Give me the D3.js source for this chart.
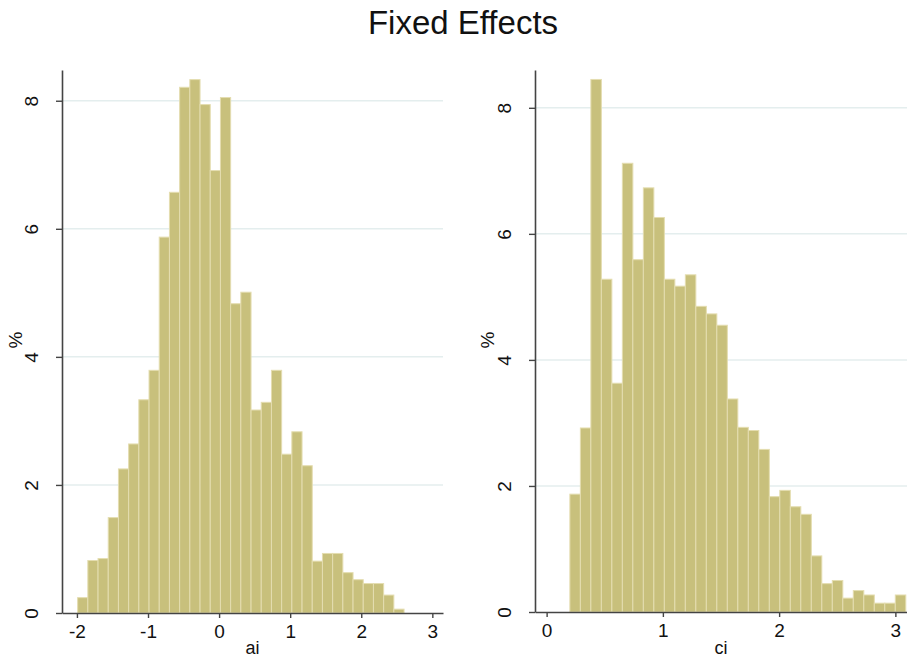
<!DOCTYPE html>
<html>
<head>
<meta charset="utf-8">
<script src="https://cdn.jsdelivr.net/npm/d3@7"></script>
<style>
  body { margin: 0; background: #fff; }
  text { font-family: "Liberation Sans", Arial, sans-serif; fill: #111; }
</style>
</head>
<body>
<svg id="FixedEffects" width="907" height="658"></svg>
<script>
// histogram heights in percent
const aiHeights = [0.24, 0.82, 0.85, 1.49, 2.25, 2.64, 3.33, 3.79, 5.87, 6.57, 8.21, 8.33, 7.94, 6.91, 8.05, 4.83,
  5.01, 3.17, 3.29, 3.79, 2.48, 2.83, 2.30, 0.81, 0.93, 0.93, 0.63, 0.52, 0.46, 0.46, 0.28, 0.06];
const aiBinStart = -1.99;
const aiBinWidth = 0.1435;

const ciHeights = [1.87, 2.92, 8.45, 5.28, 3.63, 7.12, 5.59, 6.73, 6.26, 5.28, 5.17, 5.35, 4.85, 4.73, 4.55, 3.38,
  2.93, 2.88, 2.58, 1.83, 1.93, 1.67, 1.55, 0.89, 0.45, 0.50, 0.22, 0.34, 0.27, 0.14, 0.14, 0.27];
const ciBinStart = 0.2;
const ciBinWidth = 0.0903;

const yTicks = [0, 2, 4, 6, 8];
const aiTicks = [-2, -1, 0, 1, 2, 3];
const ciTicks = [0, 1, 2, 3];

const svg = d3.select('svg#FixedEffects');

svg.append('text')
  .attr('x', 463).attr('y', 34)
  .attr('text-anchor', 'middle')
  .style('font-size', '33px')
  .text('Fixed Effects');

function drawPanel(opts) {
  const x = d3.scaleLinear().domain(opts.xDomain).range(opts.xRange);
  const y = d3.scaleLinear().domain(opts.yDomain).range(opts.yRange);
  const g = svg.append('g');

  // gridlines
  g.selectAll('line.grid').data(yTicks.filter(d => d > 0)).join('line')
    .attr('class', 'grid')
    .attr('x1', opts.xRange[0]).attr('x2', opts.xRange[1])
    .attr('y1', d => y(d)).attr('y2', d => y(d))
    .attr('stroke', '#e4eeee').attr('stroke-width', 1.5);

  // bars
  g.selectAll('rect.bar').data(opts.heights).join('rect')
    .attr('class', 'bar')
    .attr('x', (d, i) => x(opts.binStart + i * opts.binWidth))
    .attr('width', x(opts.binStart + opts.binWidth) - x(opts.binStart))
    .attr('y', d => y(d))
    .attr('height', d => y(0) - y(d))
    .attr('fill', '#c8c07c')
    .attr('stroke', '#e4ddb0')
    .attr('stroke-width', 1);

  // y axis
  const yAxis = g.append('g')
    .attr('transform', `translate(${opts.xRange[0]},0)`)
    .call(d3.axisLeft(y).tickValues(yTicks).tickSize(6).tickSizeOuter(0).tickFormat(d => String(d)));
  yAxis.select('.domain').attr('stroke', '#444').attr('stroke-width', 1.6);
  yAxis.selectAll('.tick line').attr('stroke', '#444').attr('stroke-width', 1.4);
  yAxis.selectAll('.tick text')
    .style('font-size', '19px')
    .attr('text-anchor', 'middle')
    .attr('transform', 'rotate(-90)')
    .attr('x', 0).attr('y', -24).attr('dy', 0);

  // x axis
  const xAxis = g.append('g')
    .attr('transform', `translate(0,${opts.yRange[0]})`)
    .call(d3.axisBottom(x).tickValues(opts.xTicks).tickSize(5).tickSizeOuter(0).tickPadding(7)
      .tickFormat(d => String(d)));
  xAxis.select('.domain').attr('stroke', '#444').attr('stroke-width', 1.6);
  xAxis.selectAll('.tick line').attr('stroke', '#444').attr('stroke-width', 1.4);
  xAxis.selectAll('.tick text').style('font-size', '19px');

  svg.append('text')
    .attr('transform', `translate(${opts.yLabelX},${340}) rotate(-90)`)
    .attr('text-anchor', 'middle')
    .style('font-size', '19px')
    .text('%');

  svg.append('text')
    .attr('x', (opts.xRange[0] + opts.xRange[1]) / 2).attr('y', 654)
    .attr('text-anchor', 'middle')
    .style('font-size', '18px')
    .text(opts.label);
}

drawPanel({
  heights: aiHeights, binStart: aiBinStart, binWidth: aiBinWidth,
  xDomain: [-2.21, 3.15], xRange: [62, 443],
  yDomain: [0, 8.48], yRange: [613, 70],
  xTicks: aiTicks, label: 'ai', yLabelX: 22
});

drawPanel({
  heights: ciHeights, binStart: ciBinStart, binWidth: ciBinWidth,
  xDomain: [-0.1, 3.1], xRange: [535, 907],
  yDomain: [0, 8.6], yRange: [612, 70],
  xTicks: ciTicks, label: 'ci', yLabelX: 494
});
</script>
</body>
</html>
